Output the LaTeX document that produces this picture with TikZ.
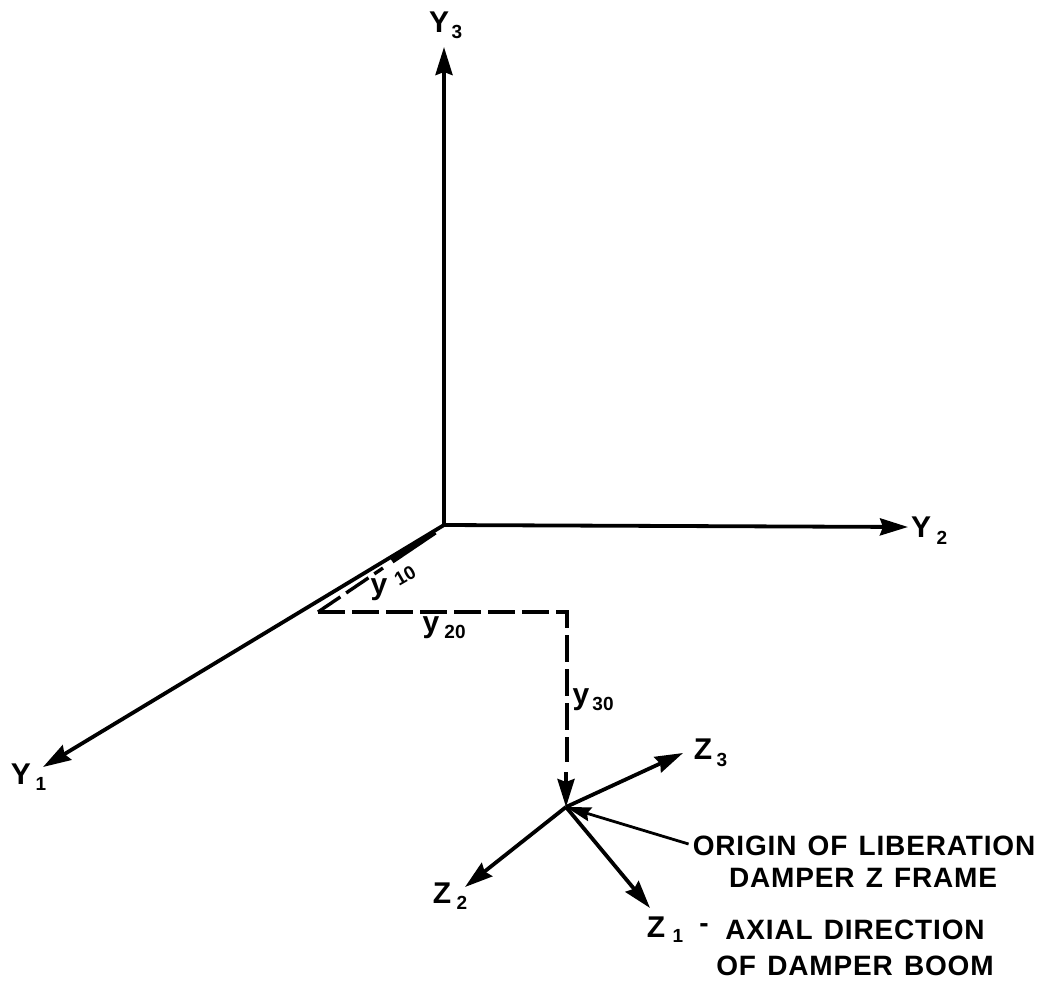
\documentclass[tikz,border=0pt]{standalone}
\usepackage{fontspec}
\setmainfont{Liberation Sans}
\newfontfamily\spaced[LetterSpace=3,WordSpace=1.3]{Liberation Sans Bold}
\usetikzlibrary{arrows.meta}
\tikzset{
 ax/.style={line width=3.8pt,-{Stealth[length=28pt,width=17pt,inset=3pt]}},
 dim/.style={line width=3.4pt,dash pattern=on 27pt off 7pt},
 lbl/.style={inner sep=0pt,font=\spaced\fontsize{30}{34}\selectfont},
 sub/.style={inner sep=0pt,font=\bfseries\fontsize{19}{22}\selectfont},
 yv/.style={inner sep=0pt,font=\spaced\fontsize{30}{34}\selectfont},
 txt/.style={inner sep=0pt,align=center,font=\spaced\fontsize{28}{32}\selectfont},
}
\begin{document}
\begin{tikzpicture}[x=1pt,y=-1pt]
\useasboundingbox (0,0) rectangle (1043,983);
\coordinate (O) at (444,525);
\coordinate (Y3t) at (444,47);
\coordinate (Y2t) at (908,527);
\coordinate (Y1t) at (43,767);
\coordinate (C) at (318,612);
\coordinate (K) at (567,612);
\coordinate (Zo) at (566,807);
\coordinate (Z3t) at (683,753);
\coordinate (Z2t) at (465,887);
\coordinate (Z1t) at (650,908);
\coordinate (D1) at (392,561);
\coordinate (D2) at (435,532);
\draw[ax] (O) -- (Y3t);
\draw[ax] (O) -- (Y2t);
\draw[ax] (O) -- (Y1t);
\draw[line width=5.5pt] (D1) -- (D2);
\draw[dim] (C) -- (383,568);
\draw[dim] (C) -- (K) -- (567,762);
\draw[ax] (566,772) -- (Zo);
\draw[ax] (Zo) -- (Z3t);
\draw[ax] (Zo) -- (Z2t);
\draw[ax] (Zo) -- (Z1t);
\node[lbl] (Y3) at (439,22) {Y};
\node[sub] (Y3s) at (457,32) {3};
\node[lbl] (Y2) at (921,527) {Y};
\node[sub] (Y2s) at (942,538) {2};
\node[lbl] (Y1) at (21,774) {Y};
\node[sub] (Y1s) at (41,784) {1};
\node[yv] (y10) at (379,590) {y};
\node[sub,rotate=30] (y10s) at (405,576) {10};
\node[yv] (y20) at (431,628) {y};
\node[sub] (y20s) at (455,632) {20};
\node[yv] (y30) at (581,700) {y};
\node[sub] (y30s) at (603,704) {30};
\node[lbl] (Z3) at (703,749) {Z};
\node[sub] (Z3s) at (722,760) {3};
\node[lbl] (Z2) at (442,893) {Z};
\node[sub] (Z2s) at (462,903) {2};
\node[lbl] (Z1) at (656,927) {Z};
\node[sub] (Z1s) at (678,936) {1};
\node[txt] (Z1d) at (704,928) {-};
\node[txt] (axial) at (855,930) {AXIAL DIRECTION};
\node[txt] (boom) at (855,966) {OF DAMPER BOOM};
\node[txt] (org) at (864,846) {ORIGIN OF LIBERATION};
\node[txt] (frm) at (863,878) {DAMPER Z FRAME};
\draw[line width=2.8pt,-{Stealth[length=25pt,width=14pt,inset=3pt]}] (org.west) ++(-4,-2) coordinate (P) (P) -- (Zo);
\end{tikzpicture}
\end{document}
